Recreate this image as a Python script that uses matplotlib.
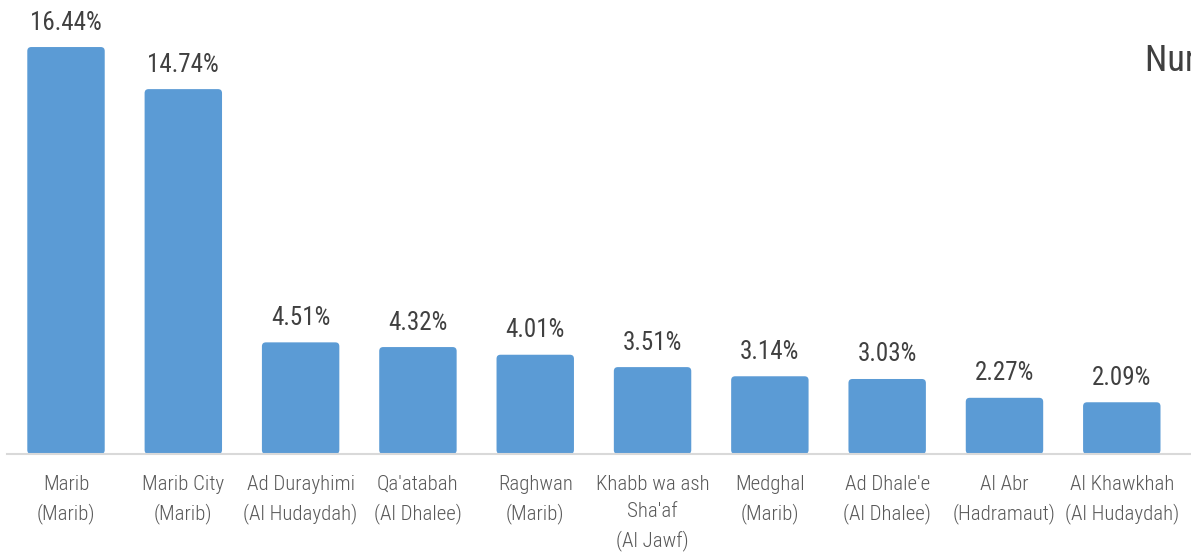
import matplotlib
matplotlib.use('Agg')
import matplotlib.pyplot as plt
from matplotlib.patches import FancyBboxPatch

districts = ['Marib\n(Marib)', 'Marib City\n(Marib)', 'Ad Durayhimi\n(Al Hudaydah)',
             "Qa'atabah\n(Al Dhalee)", 'Raghwan\n(Marib)', "Khabb wa ash\nSha'af\n(Al Jawf)",
             'Medghal\n(Marib)', "Ad Dhale'e\n(Al Dhalee)", 'Al Abr\n(Hadramaut)',
             'Al Khawkhah\n(Al Hudaydah)']
shares = [16.44, 14.74, 4.51, 4.32, 4.01, 3.51, 3.14, 3.03, 2.27, 2.09]
title = 'Number of IDPs by district'

plt.rcParams['font.family'] = ['Roboto Condensed', 'Roboto', 'DejaVu Sans']

fig = plt.figure(figsize=(11.91, 5.56), dpi=100)
ax = fig.add_axes([7 / 1191, 102 / 556, 1184 / 1191, 454 / 556])

x = list(range(len(shares)))
bars = ax.bar(x, shares, width=0.66, color='#5B9BD5')

# swap plain bars for rounded ones
for b in bars:
    b.set_visible(False)
    rb = FancyBboxPatch((b.get_x(), 0), b.get_width(), b.get_height(),
                        boxstyle='round,pad=0,rounding_size=0.034',
                        mutation_aspect=4.74, facecolor='#5B9BD5',
                        edgecolor='none')
    ax.add_patch(rb)

for xi, v in zip(x, shares):
    ax.annotate('{:.2f}%'.format(v), (xi, v), xytext=(0, 9), textcoords='offset points',
                ha='center', va='bottom', fontsize=18, color='#404040')

ax.set_xlim(-0.503, 9.59)
ax.set_ylim(0, 18.34)
ax.set_xticks(x)
ax.set_xticklabels(districts, fontsize=15, color='#595959', linespacing=1.55,
                   fontweight='light')
ax.tick_params(axis='x', length=0, pad=15)
ax.set_yticks([])
for s in ['top', 'right', 'left']:
    ax.spines[s].set_visible(False)
ax.spines['bottom'].set_color('#D9D9D9')
ax.spines['bottom'].set_linewidth(1.5)

fig.text(1145 / 1191, 1 - 61 / 556, title, fontsize=26, color='#404040',
         ha='left', va='center')

fig.savefig('out.png', dpi=100)
